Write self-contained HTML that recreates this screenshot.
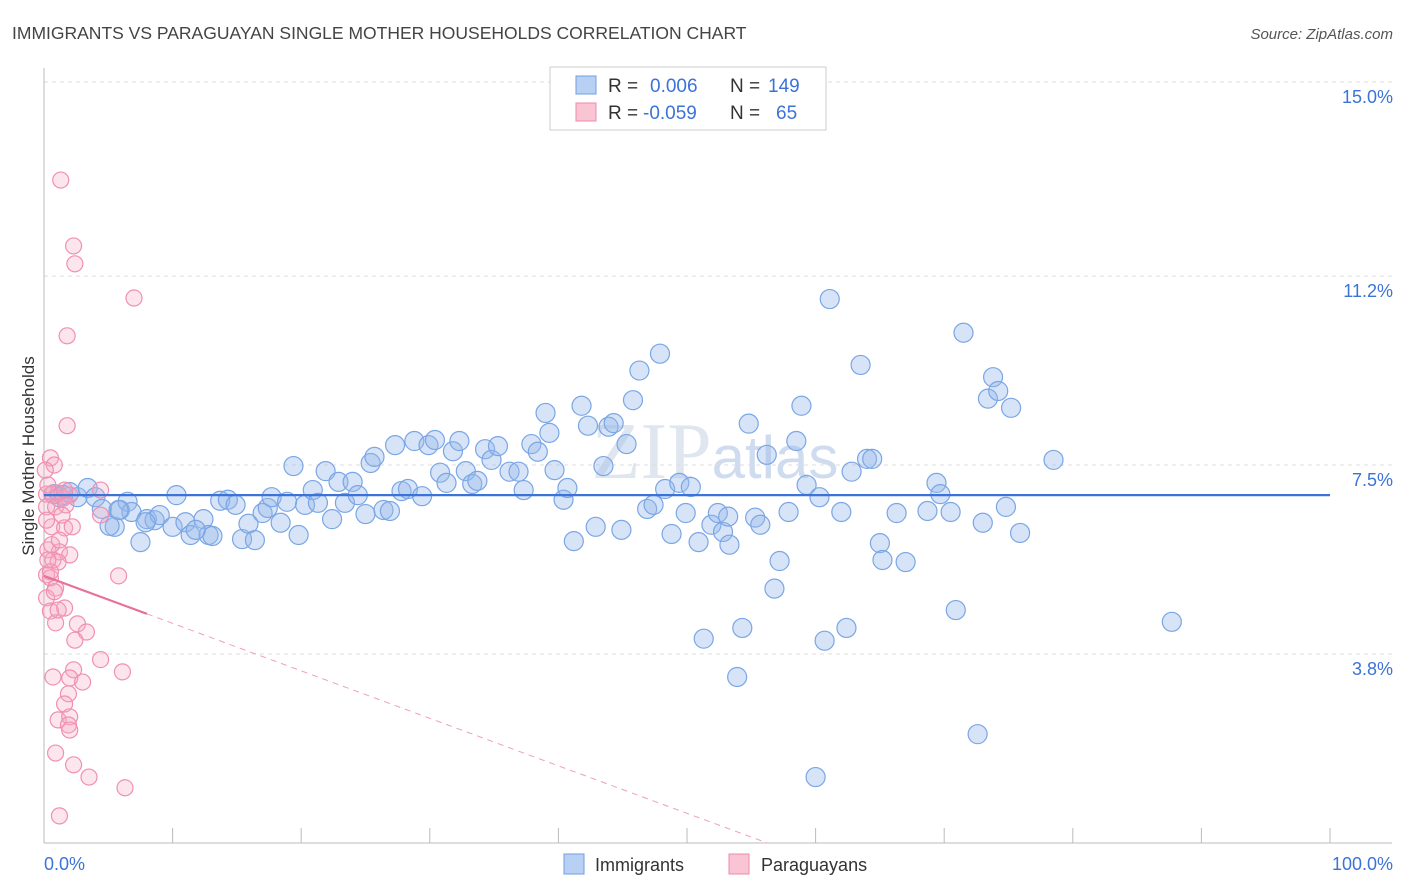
<!DOCTYPE html>
<html><head><meta charset="utf-8"><style>
body{margin:0;background:#fff;font-family:"Liberation Sans",sans-serif;}
#wrap{position:relative;width:1406px;height:892px;overflow:hidden;}
</style></head><body>
<div id="wrap">
<svg id="chart" width="1406" height="892" xmlns="http://www.w3.org/2000/svg">
<text x="12" y="39" font-size="17.5" fill="#444">IMMIGRANTS VS PARAGUAYAN SINGLE MOTHER HOUSEHOLDS CORRELATION CHART</text>
<text x="1393" y="39" font-size="15" fill="#555" font-style="italic" text-anchor="end">Source: ZipAtlas.com</text>
<text x="715" y="478" font-size="80" fill="#dfe6ef" text-anchor="middle" font-family="Liberation Serif,serif">ZIP<tspan fill="#cfdcf0" font-family="Liberation Sans,sans-serif" font-size="60">atlas</tspan></text>
<g id="grid"></g>
<g id="axes"></g>
<g id="blue"></g>
<g id="pink"></g>
<g id="reg"></g>
<text transform="translate(34,456) rotate(-90)" font-size="17" fill="#333" text-anchor="middle">Single Mother Households</text>
<text x="44" y="870" font-size="18" fill="#3b73d8">0.0%</text>
<text x="1393" y="870" font-size="18" fill="#3b73d8" text-anchor="end">100.0%</text>
<g>
<rect x="550" y="67" width="276" height="63" fill="#fff" stroke="#ccc"/>
<rect x="576" y="76" width="20" height="18" fill="#b9d0f5" stroke="#6f9fe0"/>
<rect x="576" y="103" width="20" height="18" fill="#f9c4d4" stroke="#f08aaa"/>
<text x="608" y="92" font-size="19" fill="#333">R = </text><text x="650" y="92" font-size="19" fill="#3b73d8">0.006</text>
<text x="730" y="92" font-size="19" fill="#333">N = </text><text x="768" y="92" font-size="19" fill="#3b73d8">149</text>
<text x="608" y="119" font-size="19" fill="#333">R = </text><text x="643" y="119" font-size="19" fill="#3b73d8">-0.059</text>
<text x="730" y="119" font-size="19" fill="#333">N = </text><text x="776" y="119" font-size="19" fill="#3b73d8">65</text>
</g>
<g>
<rect x="564" y="854" width="20" height="20" fill="#b9d0f5" stroke="#6f9fe0"/>
<text x="595" y="871" font-size="18" fill="#333">Immigrants</text>
<rect x="729" y="854" width="20" height="20" fill="#f9c4d4" stroke="#f08aaa"/>
<text x="761" y="871" font-size="18" fill="#333">Paraguayans</text>
</g>
</svg>
</div>
<script>
const yTicks=[3.8,7.5,11.2,15.0];
const yTickLabels=["3.8%","7.5%","11.2%","15.0%"];
const blueX=[0.8,1.2,2.0,2.6,3.4,4.0,4.5,5.5,5.9,6.5,6.8,7.5,8.0,8.6,9.0,10.0,10.3,11.0,11.4,12.4,12.8,13.1,13.7,14.3,14.9,15.4,15.9,16.4,17.0,17.4,17.7,18.4,18.9,19.4,19.8,20.3,20.9,21.3,21.9,22.4,22.9,23.4,24.0,24.4,25.0,25.4,25.7,26.4,26.9,27.3,27.8,28.3,28.8,29.4,29.9,30.4,30.8,31.3,31.8,32.3,32.8,33.3,33.7,34.3,34.8,35.3,36.2,36.9,37.3,37.9,38.4,39.0,39.3,39.7,40.4,40.7,41.2,41.8,42.3,42.9,43.5,43.9,44.3,44.9,45.3,45.8,46.3,46.9,47.4,47.9,48.3,48.8,49.4,49.9,50.3,50.9,51.3,51.9,52.4,52.8,53.2,53.3,53.9,54.3,54.8,55.3,55.7,56.2,56.8,57.2,57.9,58.5,58.9,59.3,60.0,60.3,60.7,61.1,62.0,62.4,62.8,63.5,64.0,64.4,65.0,65.2,66.3,67.0,68.7,69.4,69.7,70.5,70.9,71.5,72.6,73.0,73.4,73.8,74.2,74.8,75.2,75.9,78.5,87.7,1.5,5.1,5.8,7.9,11.8];
const blueY=[6.93,6.87,6.97,6.87,7.05,6.87,6.64,6.29,6.62,6.78,6.58,5.99,6.44,6.42,6.52,6.29,6.91,6.38,6.13,6.44,6.13,6.11,6.80,6.82,6.72,6.05,6.35,6.03,6.56,6.66,6.87,6.37,6.78,7.48,6.13,6.72,7.01,6.76,7.38,6.44,7.17,6.76,7.17,6.91,6.54,7.54,7.66,6.62,6.60,7.89,6.99,7.03,7.97,6.89,7.89,7.99,7.35,7.15,7.77,7.97,7.38,7.13,7.19,7.81,7.60,7.87,7.37,7.37,7.01,7.91,7.76,8.52,8.13,7.40,6.82,7.05,6.01,8.66,8.27,6.29,7.48,8.25,8.32,6.23,7.91,8.77,9.35,6.64,6.72,9.68,7.03,6.15,7.15,6.56,7.07,5.99,4.10,6.33,6.56,6.19,6.49,5.94,3.35,4.31,8.31,6.47,6.33,7.70,5.08,5.62,6.58,7.97,8.66,7.11,1.39,6.87,4.06,10.75,6.58,4.31,7.37,9.46,7.62,7.62,5.97,5.64,6.56,5.60,6.60,7.15,6.93,6.58,4.66,10.09,2.23,6.37,8.80,9.22,8.95,6.68,8.62,6.17,7.60,4.43,6.91,6.31,6.62,6.38,6.23];
const pinkX=[1.3,2.3,2.4,7.0,1.8,1.8,0.5,0.8,0.2,0.6,1.1,1.5,2.0,4.4,0.2,0.9,4.4,0.6,1.6,2.2,0.3,1.2,2.0,0.7,1.1,0.2,0.5,5.8,0.9,0.2,1.6,0.5,2.6,0.9,3.3,2.4,4.4,2.3,6.1,0.7,2.0,3.0,1.9,1.6,1.1,2.0,1.9,0.9,2.3,3.5,6.3,1.2,0.5,0.3,0.6,1.2,1.7,0.3,0.1,1.4,0.2,2.0,0.8,1.1,1.6];
const pinkY=[13.08,11.79,11.44,10.77,10.03,8.27,7.64,7.50,6.93,6.93,6.95,6.85,6.91,7.01,6.68,6.68,6.52,6.29,6.27,6.29,5.84,5.80,5.74,5.64,5.60,5.35,5.29,5.33,5.09,4.90,4.70,4.64,4.39,4.41,4.23,4.07,3.69,3.49,3.45,3.35,3.33,3.25,3.02,2.82,2.51,2.57,2.41,1.86,1.63,1.39,1.18,0.63,5.41,5.64,5.94,6.03,6.72,7.11,7.40,6.52,6.42,2.31,5.02,4.66,7.01];
const blueFit=[6.91,6.91];
const pinkFit=[5.33,-0.093];
const NS="http://www.w3.org/2000/svg";
const X0=44,X1=1330,YTOP=82,PXU=51.07;
function xs(v){return X0+(X1-X0)*v/100;}
function ys(v){return YTOP+(15-v)*PXU;}
function mk(tag,attrs,parent){const e=document.createElementNS(NS,tag);for(const k in attrs)e.setAttribute(k,attrs[k]);parent.appendChild(e);return e;}
const grid=document.getElementById('grid'),axes=document.getElementById('axes');
yTicks.forEach((t,i)=>{
  const l=mk('line',{x1:X0,x2:1392,y1:ys(t),y2:ys(t),stroke:'#ddd','stroke-dasharray':'4,4'},grid);
  
  
  const tx=mk('text',{x:1393,y:ys(t)+21,'font-size':18,fill:'#3b73d8','text-anchor':'end'},axes);
  tx.textContent=yTickLabels[i];
  
  
});
const ya=mk('line',{x1:X0,x2:X0,y1:68,y2:843,stroke:'#bbb'},axes);


const xa=mk('line',{x1:X0,x2:1392,y1:843,y2:843,stroke:'#bbb'},axes);


for(let i=1;i<=10;i++){
  const t=mk('line',{x1:xs(i*10),x2:xs(i*10),y1:828,y2:843,stroke:'#bbb'},axes);
  
  
}
const bg=document.getElementById('blue');
blueX.forEach((v,i)=>{
  const c=mk('circle',{cx:xs(v),cy:ys(blueY[i]),r:9.5,fill:'rgba(150,185,235,0.38)',stroke:'#7aa6e6','stroke-width':1.2},bg);
  
  
});
const pg=document.getElementById('pink');
pinkX.forEach((v,i)=>{
  const c=mk('circle',{cx:xs(v),cy:ys(pinkY[i]),r:8,fill:'rgba(245,170,195,0.3)',stroke:'#f090b0','stroke-width':1.2},pg);
  
  
});
const rg=document.getElementById('reg');
const bl=mk('line',{x1:xs(0),x2:xs(100),y1:ys(blueFit[0]),y2:ys(blueFit[1]),stroke:'#3b73d8','stroke-width':2.2},rg);


const pf=x=>pinkFit[0]+pinkFit[1]*x;
const xEnd=(0.1-pinkFit[0])/pinkFit[1];
const ps=mk('line',{x1:xs(0),x2:xs(8),y1:ys(pf(0)),y2:ys(pf(8)),stroke:'#e8709a','stroke-width':2.2},rg);


const pd=mk('line',{x1:xs(8),x2:xs(xEnd),y1:ys(pf(8)),y2:ys(pf(xEnd)),stroke:'#eea0b8','stroke-width':1,'stroke-dasharray':'6,5'},rg);


</script>
</body></html>
